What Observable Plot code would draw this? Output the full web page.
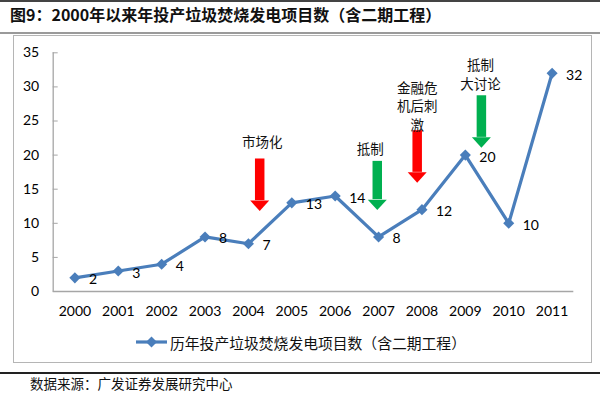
<!DOCTYPE html>
<html>
<head>
<meta charset="utf-8">
<script src="https://cdn.jsdelivr.net/npm/d3@7"></script>
<script src="https://cdn.jsdelivr.net/npm/@observablehq/plot@0.6"></script>
<style>
  html, body { margin: 0; padding: 0; background: #fff; }
  #wrap { position: relative; width: 600px; height: 399px; overflow: hidden; font-family: "Noto Sans CJK SC", sans-serif; }
  .hline { position: absolute; left: 0; width: 600px; }
  #title { position: absolute; left: 10px; top: 3px; font-size: 16px; line-height: 22px; font-weight: bold; color: #111; white-space: nowrap; }
  #box { position: absolute; left: 13px; top: 35px; width: 577px; height: 326px; border: 1px solid #b5b5b5; }
  #chart { position: absolute; left: 0; top: 0; }
  #legend { position: absolute; left: 136px; top: 332px; height: 20px; display: flex; align-items: center; white-space: nowrap; font-size: 14.8px; color: #111; }
  #legend svg { margin-right: 3px; }
  #source { position: absolute; left: 30px; top: 374px; font-size: 13.5px; line-height: 18px; color: #111; white-space: nowrap; }
</style>
</head>
<body>
<div id="wrap">
  <div class="hline" style="top:0;height:1.5px;background:#444"></div>
  <div id="title">图9：2000年以来年投产垃圾焚烧发电项目数（含二期工程）</div>
  <div class="hline" style="top:32px;height:2px;background:#9a9a9a"></div>
  <div id="box"></div>
  <div id="chart"></div>
  <div id="legend"></div>
  <div class="hline" style="top:372px;height:1.5px;background:#222"></div>
  <div id="source">数据来源：广发证券发展研究中心</div>
</div>
<script>
// ---- data ----
const years = [2000, 2001, 2002, 2003, 2004, 2005, 2006, 2007, 2008, 2009, 2010, 2011];
const projects = [2, 3, 4, 8, 7, 13, 14, 8, 12, 20, 10, 32];
const yTicks = [0, 5, 10, 15, 20, 25, 30, 35];
const seriesName = "历年投产垃圾焚烧发电项目数（含二期工程）";

// annotations (position in data units: year, value)
const noteText = ["市场化", "抵制", "金融危\n机后刺\n激", "抵制\n大讨论"];
const noteYear = [2004.32, 2006.81, 2007.89, 2009.35];
const noteValue = [22.0, 21.0, 27.25, 31.95];

// block arrows (year, top value, head-base value)
const arrowYear = [2004.26, 2006.97, 2007.89, 2009.37];
const arrowTop = [19.43, 19.08, 23.58, 28.70];
const arrowHead = [13.33, 13.47, 17.47, 22.60];
const arrowColor = ["#ff0000", "#00b050", "#ff0000", "#00b050"];

const blue = "#4a7ebb";
const data = years.map((y, i) => ({year: y, value: projects[i]}));
const notes = noteText.map((t, i) => ({text: t, year: noteYear[i], value: noteValue[i]}));
const arrows = arrowYear.map((y, i) => ({year: y, top: arrowTop[i], head: arrowHead[i], color: arrowColor[i]}));

const downHead = {
  draw(ctx, size) {
    const r = Math.sqrt(size / Math.PI);
    ctx.moveTo(-r, 0);
    ctx.lineTo(r, 0);
    ctx.lineTo(0, r * 1.1);
    ctx.closePath();
  }
};

const chart = Plot.plot({
  width: 600,
  height: 330,
  marginLeft: 52.7,
  marginRight: 26.7,
  marginTop: 52.3,
  marginBottom: 39,
  style: {background: "transparent", fontFamily: "Lato, 'Open Sans', sans-serif", fontSize: "14px", color: "#000"},
  x: {type: "linear", domain: [1999.5, 2011.5]},
  y: {domain: [0, 35]},
  marks: [
    Plot.ruleY([0], {stroke: "#a6a6a6", strokeWidth: 1.3}),
    Plot.ruleX([1999.5], {stroke: "#a6a6a6", strokeWidth: 1.3}),
    Plot.axisY({ticks: yTicks, tickSize: -5, tickPadding: 19, stroke: "#a6a6a6", label: null, fontSize: 14}),
    Plot.axisX({ticks: years, tickFormat: d => String(d), tickSize: 0, tickPadding: 15, label: null, fontSize: 14}),
    Plot.ruleX(arrows, {x: "year", y1: "top", y2: "head", stroke: "color", strokeWidth: 9.5}),
    Plot.dot(arrows, {x: "year", y: "head", fill: "color", stroke: "none", r: 9.5, symbol: downHead}),
    Plot.line(data, {x: "year", y: "value", stroke: blue, strokeWidth: 3.2}),
    Plot.dot(data, {x: "year", y: "value", fill: blue, stroke: "none", r: 5, symbol: "diamond2"}),
    Plot.text(data, {x: "year", y: "value", text: d => String(d.value), textAnchor: "start", dx: 14, dy: 2, fontSize: 14, fill: "#000"}),
    Plot.text(notes, {x: "year", y: "value", text: "text", fontSize: 13.5, lineHeight: 1.35, fill: "#111", fontFamily: "'Noto Sans CJK SC', sans-serif"})
  ]
});
document.getElementById("chart").appendChild(chart);

// legend
const lg = document.getElementById("legend");
const ns = "http://www.w3.org/2000/svg";
const sw = document.createElementNS(ns, "svg");
sw.setAttribute("width", "31");
sw.setAttribute("height", "14");
sw.innerHTML = `<line x1="0" y1="7" x2="31" y2="7" stroke="${blue}" stroke-width="3.2"/>` +
  `<path d="M15.5,1.5 L21,7 L15.5,12.5 L10,7 Z" fill="${blue}"/>`;
lg.appendChild(sw);
const span = document.createElement("span");
span.textContent = seriesName;
lg.appendChild(span);
</script>
</body>
</html>
